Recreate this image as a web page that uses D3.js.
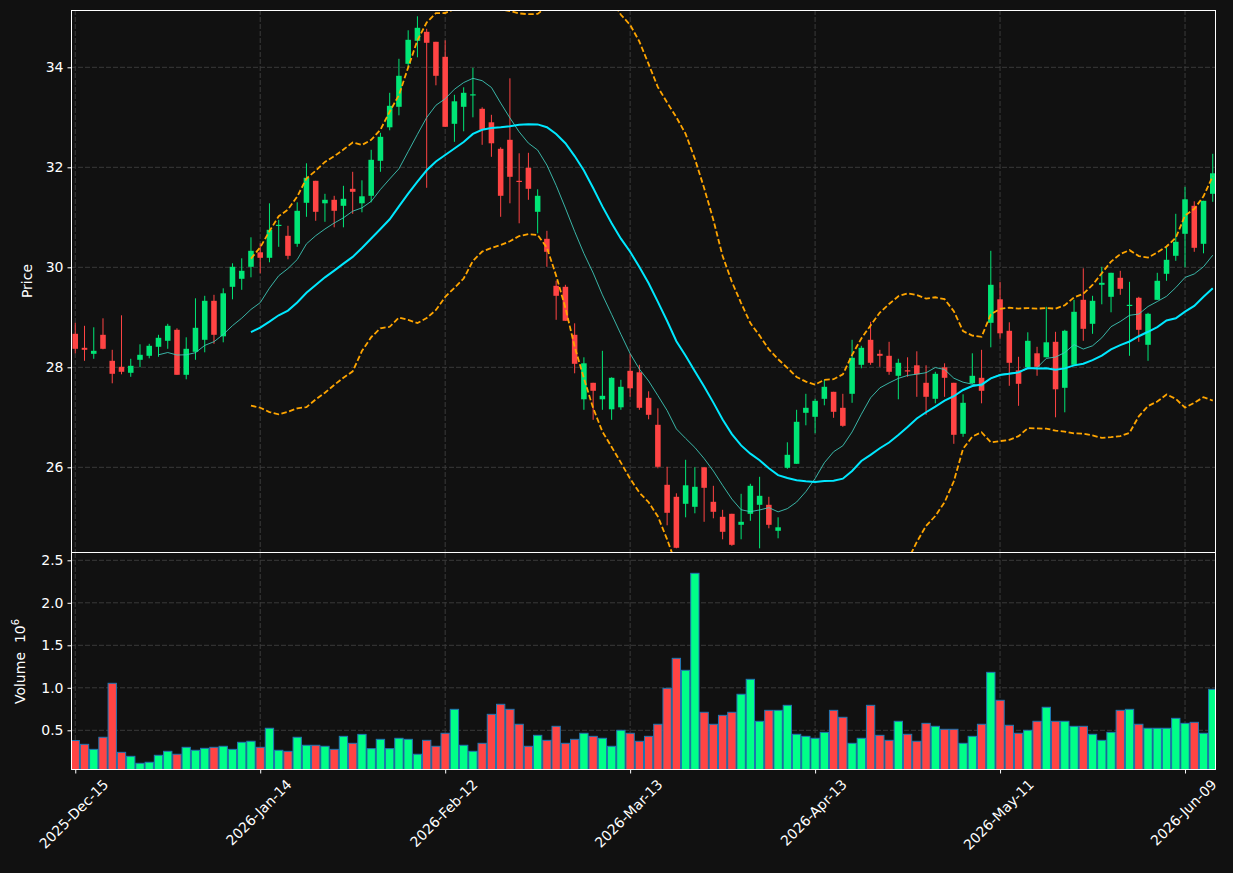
<!DOCTYPE html>
<html>
<head>
<meta charset="utf-8">
<script src="https://cdn.jsdelivr.net/npm/d3@7"></script>
<style>
  body { margin: 0; background: #111111; }
  text { font-family: "DejaVu Sans", sans-serif; }
</style>
</head>
<body>
<script>

// ---- data ----
var opens = [28.67,28.39,28.27,28.65,28.13,28.01,27.89,28.15,28.23,28.41,
  28.53,28.75,27.85,28.31,28.55,29.33,28.62,29.61,29.77,30.01,
  30.30,30.19,30.83,30.63,30.47,31.29,31.73,31.28,31.35,31.23,
  31.57,31.28,31.43,32.13,32.80,33.21,34.07,34.53,34.71,34.51,
  34.21,32.87,33.21,33.44,33.17,32.90,32.37,32.55,31.73,31.99,
  31.11,30.57,29.63,29.61,28.65,27.36,27.69,27.36,27.16,27.20,
  27.93,27.90,27.39,26.85,25.65,25.41,25.27,25.21,26.00,25.31,
  25.01,25.07,24.85,25.07,25.25,25.25,24.73,25.99,26.07,27.09,
  27.01,27.37,27.51,27.19,27.47,28.05,28.55,28.27,28.23,27.83,
  27.94,28.04,27.69,27.37,28.00,27.69,26.67,27.68,27.79,28.89,
  29.36,28.73,27.94,28.00,28.28,28.20,28.51,27.59,28.05,29.35,
  28.87,29.65,29.41,29.79,29.23,29.39,28.45,29.35,29.87,30.23,
  30.67,31.23,30.47,31.47];
var highs = [28.89,28.83,28.80,28.98,28.35,29.04,28.17,28.46,28.47,28.65,
  28.87,28.78,28.60,29.38,29.43,29.45,29.58,30.08,30.18,30.60,
  30.48,31.28,30.95,30.83,31.30,32.08,31.73,31.47,31.43,31.63,
  31.91,31.74,32.35,32.69,33.49,34.17,34.74,35.02,34.77,34.51,
  34.54,33.45,33.60,33.99,33.20,33.05,32.40,33.78,32.28,32.29,
  31.56,30.73,29.73,29.65,28.88,28.20,27.69,28.33,27.80,27.75,
  28.27,28.05,27.52,27.18,26.01,25.48,26.15,26.00,26.00,25.63,
  25.15,25.07,25.47,25.67,25.81,25.41,25.00,26.50,27.15,27.47,
  27.37,27.75,27.51,27.47,28.55,28.43,28.91,28.35,28.51,28.17,
  28.20,28.32,28.04,27.91,28.08,27.69,27.46,28.28,28.35,30.33,
  29.71,28.90,28.21,28.70,28.41,29.21,28.71,28.75,29.35,29.98,
  29.43,30.01,29.89,29.93,29.71,29.41,29.09,29.89,30.41,31.07,
  31.61,31.32,31.33,32.27];
var lows = [28.28,28.13,28.17,28.36,27.68,27.86,27.81,28.00,28.18,28.21,
  28.37,27.85,27.76,28.15,28.30,28.47,28.50,29.36,29.55,29.80,
  29.88,30.10,30.41,30.16,30.41,31.01,30.93,30.91,30.80,30.80,
  31.07,31.10,31.30,31.91,32.74,33.04,33.99,34.20,31.59,33.64,
  32.81,32.51,32.72,33.00,32.45,32.21,31.01,31.28,30.88,31.35,
  30.68,30.01,28.95,28.93,27.88,27.15,26.95,27.15,26.95,27.15,
  27.41,27.15,26.96,25.98,24.84,24.38,25.00,25.08,24.91,24.98,
  24.56,24.43,24.56,24.93,24.38,24.78,24.58,25.97,26.07,26.84,
  26.68,27.24,26.99,26.81,27.29,27.98,28.05,28.01,27.85,27.36,
  27.81,27.41,27.05,27.28,27.41,26.47,26.61,27.67,27.28,28.40,
  28.57,27.63,27.23,28.00,27.83,28.20,27.00,27.10,28.05,28.53,
  28.67,29.26,29.10,29.45,28.23,28.51,28.13,29.35,29.73,30.13,
  30.00,30.31,30.28,31.31];
var closes = [28.37,28.35,28.33,28.37,27.87,27.91,28.03,28.25,28.43,28.59,
  28.83,27.85,28.37,28.79,29.33,28.65,29.48,30.01,29.93,30.33,
  30.19,30.75,30.85,30.23,31.13,31.79,31.11,31.35,31.13,31.37,
  31.51,31.42,32.15,32.61,33.23,33.83,34.55,34.79,34.49,33.83,
  32.81,33.32,33.49,33.46,32.75,32.48,31.43,31.81,31.71,31.57,
  31.43,30.31,29.43,28.93,28.07,28.08,27.53,27.43,27.79,27.61,
  27.58,27.19,27.05,26.01,25.09,24.39,25.64,25.61,25.59,25.11,
  24.71,24.45,24.91,25.63,25.43,24.85,24.80,26.25,26.91,27.19,
  27.33,27.61,27.11,26.83,28.19,28.39,28.09,28.23,27.91,28.09,
  27.92,27.86,27.41,27.87,27.79,26.65,27.29,27.83,27.53,29.65,
  28.68,28.09,27.67,28.53,28.01,28.50,27.56,28.73,29.11,28.77,
  29.33,29.69,29.89,29.57,29.25,28.75,29.07,29.73,30.15,30.51,
  31.36,30.39,31.33,31.88];
// volume in millions
var volumes = [0.38,0.335,0.276,0.418,1.053,0.241,0.194,0.112,0.124,0.206,
  0.253,0.218,0.30,0.265,0.288,0.30,0.312,0.276,0.359,0.371,
  0.30,0.524,0.265,0.253,0.418,0.324,0.324,0.312,0.276,0.429,
  0.347,0.452,0.284,0.394,0.284,0.406,0.394,0.218,0.382,0.312,
  0.465,0.747,0.324,0.253,0.347,0.688,0.806,0.747,0.571,0.312,
  0.441,0.382,0.547,0.347,0.394,0.465,0.429,0.406,0.312,0.50,
  0.465,0.371,0.429,0.571,0.994,1.347,1.206,2.347,0.712,0.571,
  0.676,0.712,0.924,1.10,0.606,0.735,0.735,0.794,0.453,0.429,
  0.406,0.476,0.735,0.653,0.347,0.406,0.794,0.441,0.382,0.606,
  0.453,0.371,0.582,0.547,0.512,0.512,0.347,0.429,0.571,1.182,
  0.853,0.559,0.465,0.50,0.606,0.771,0.606,0.606,0.547,0.547,
  0.453,0.382,0.476,0.735,0.747,0.571,0.524,0.524,0.524,0.641,
  0.582,0.594,0.465,0.982];

var tickLabels = ["2025-Dec-15","2026-Jan-14","2026-Feb-12","2026-Mar-13",
  "2026-Apr-13","2026-May-11","2026-Jun-09"];
var tickEvery = 20;
var priceTicks = [26, 28, 30, 32, 34];
var volTicks = [0.5, 1.0, 1.5, 2.0, 2.5];

// ---- look ----
var bg = "#111111",
    up_col = "#00e676",
    down_col = "#ff4444",
    vup_col = "#00ff88",
    vedge = "#1f77b4",
    grid_col = "#3a3a3a",
    fg = "#ffffff";

var W = 1233, H = 873;
var left = 71, right = 1216,
    pTop = 10, pBot = 552,
    vTop = 553, vBot = 770;

var svg = d3.select("body").append("svg")
    .attr("width", W).attr("height", H)
    .style("background", bg);

var n = closes.length;
var x = d3.scaleLinear().domain([-0.46, 123.35]).range([left, right]);
var step = x(1) - x(0);
var yP = d3.scaleLinear().domain([24.306, 35.146]).range([pBot, pTop]);
var yV = d3.scaleLinear().domain([0.033, 2.586]).range([vBot, vTop]);

// indicators from the closes
function sma(arr, p) {
    return arr.map(function(d, i) {
        if (i < p - 1) return null;
        return d3.mean(arr.slice(i - p + 1, i + 1));
    });
}
function sdev(arr, p) {
    return arr.map(function(d, i) {
        if (i < p - 1) return null;
        return d3.deviation(arr.slice(i - p + 1, i + 1));
    });
}
var ma10 = sma(closes, 10),
    ma20 = sma(closes, 20),
    sd20 = sdev(closes, 20);
var bbUp = ma20.map(function(m, i) { return m == null ? null : m + 2 * sd20[i]; });
var bbLo = ma20.map(function(m, i) { return m == null ? null : m - 2 * sd20[i]; });

var defs = svg.append("defs");
defs.append("clipPath").attr("id", "clipP")
    .append("rect").attr("x", left).attr("y", pTop)
    .attr("width", right - left).attr("height", pBot - pTop);
defs.append("clipPath").attr("id", "clipV")
    .append("rect").attr("x", left).attr("y", vTop)
    .attr("width", right - left).attr("height", vBot - vTop);

var tickIdx = tickLabels.map(function(d, i) { return i * tickEvery; });

// ---- grid ----
var grid = svg.append("g").attr("stroke", grid_col).attr("stroke-width", 1)
    .attr("stroke-dasharray", "5,2");
tickIdx.forEach(function(t) {
    grid.append("line").attr("x1", x(t)).attr("x2", x(t)).attr("y1", pTop).attr("y2", pBot);
    grid.append("line").attr("x1", x(t)).attr("x2", x(t)).attr("y1", vTop).attr("y2", vBot);
});
priceTicks.forEach(function(t) {
    grid.append("line").attr("x1", left).attr("x2", right).attr("y1", yP(t)).attr("y2", yP(t));
});
volTicks.forEach(function(t) {
    grid.append("line").attr("x1", left).attr("x2", right).attr("y1", yV(t)).attr("y2", yV(t));
});

// ---- candles ----
var idx = d3.range(n);
var pg = svg.append("g").attr("clip-path", "url(#clipP)");
var colOf = function(i) { return closes[i] >= opens[i] ? up_col : down_col; };

pg.selectAll("line.wick").data(idx).join("line")
    .attr("class", "wick")
    .attr("x1", function(i) { return x(i); })
    .attr("x2", function(i) { return x(i); })
    .attr("y1", function(i) { return yP(highs[i]); })
    .attr("y2", function(i) { return yP(lows[i]); })
    .attr("stroke", colOf).attr("stroke-width", 1);

var bw = step * 0.6;
pg.selectAll("rect.body").data(idx).join("rect")
    .attr("class", "body")
    .attr("x", function(i) { return x(i) - bw / 2; })
    .attr("width", bw)
    .attr("y", function(i) { return yP(Math.max(opens[i], closes[i])); })
    .attr("height", function(i) {
        return Math.max(1.2, Math.abs(yP(opens[i]) - yP(closes[i])));
    })
    .attr("fill", colOf);

// ---- moving averages and bands ----
function lineOf(arr) {
    return d3.line()
        .defined(function(i) { return arr[i] != null; })
        .x(function(i) { return x(i); })
        .y(function(i) { return yP(arr[i]); })(idx);
}
pg.append("path").attr("d", lineOf(ma10))
    .attr("fill", "none").attr("stroke", "#3fd0c0").attr("stroke-width", 1)
    .attr("opacity", 0.85);
pg.append("path").attr("d", lineOf(ma20))
    .attr("fill", "none").attr("stroke", "#00e8ff").attr("stroke-width", 2);
[bbUp, bbLo].forEach(function(b) {
    pg.append("path").attr("d", lineOf(b))
        .attr("fill", "none").attr("stroke", "#ffa500").attr("stroke-width", 1.8)
        .attr("stroke-dasharray", "5.5,2.5");
});

// ---- volume ----
var vg = svg.append("g").attr("clip-path", "url(#clipV)");
var vbw = step * 0.9;
vg.selectAll("rect.vol").data(idx).join("rect")
    .attr("class", "vol")
    .attr("x", function(i) { return x(i) - vbw / 2; })
    .attr("width", vbw)
    .attr("y", function(i) { return yV(volumes[i]); })
    .attr("height", function(i) { return vBot - yV(volumes[i]) + 2; })
    .attr("fill", function(i) { return closes[i] >= opens[i] ? vup_col : down_col; })
    .attr("stroke", vedge).attr("stroke-width", 1);

// ---- axes ----
function styleAxis(g) {
    g.select(".domain").remove();
    g.selectAll(".tick line").attr("stroke", fg);
    g.selectAll(".tick text").attr("fill", fg)
        .attr("font-family", '"DejaVu Sans", sans-serif').attr("font-size", "14px");
}
svg.append("g").attr("transform", "translate(" + left + ",0)")
    .call(d3.axisLeft(yP).tickValues(priceTicks).tickSize(3.5).tickPadding(4)
        .tickFormat(d3.format("d")))
    .call(styleAxis);
svg.append("g").attr("transform", "translate(" + left + ",0)")
    .call(d3.axisLeft(yV).tickValues(volTicks).tickSize(3.5).tickPadding(4)
        .tickFormat(d3.format(".1f")))
    .call(styleAxis);

var xg = svg.append("g").attr("transform", "translate(0," + vBot + ")")
    .call(d3.axisBottom(x).tickValues(tickIdx).tickSize(3.5)
        .tickFormat(function(d) { return tickLabels[d / tickEvery]; }))
    .call(styleAxis);
// matplotlib style 45 degree labels, centred under the tick
xg.selectAll(".tick text").each(function() {
    var t = d3.select(this);
    var L = this.getComputedTextLength(), h = 14;
    var box = (L + h) / Math.SQRT2;
    t.attr("y", null).attr("dy", null)
        .attr("text-anchor", "middle")
        .attr("dominant-baseline", "central")
        .attr("transform", "translate(-2," + (7 + box / 2) + ") rotate(-45)");
});

// ---- spines ----
svg.append("rect").attr("x", left + 0.5).attr("y", pTop + 0.5)
    .attr("width", right - left - 1).attr("height", pBot - pTop)
    .attr("fill", "none").attr("stroke", fg).attr("stroke-width", 1);
svg.append("rect").attr("x", left + 0.5).attr("y", vTop - 0.5)
    .attr("width", right - left - 1).attr("height", vBot - vTop)
    .attr("fill", "none").attr("stroke", fg).attr("stroke-width", 1);

// ---- labels ----
svg.append("text").text("Price")
    .attr("transform", "translate(32," + ((pTop + pBot) / 2) + ") rotate(-90)")
    .attr("text-anchor", "middle").attr("fill", fg).attr("font-size", "14px");

var vl = svg.append("text")
    .attr("transform", "translate(25," + ((vTop + vBot) / 2) + ") rotate(-90)")
    .attr("text-anchor", "middle").attr("fill", fg).attr("font-size", "14px")
    .style("white-space", "pre");
vl.append("tspan").text("Volume  10");
vl.append("tspan").text("6").attr("font-size", "10px").attr("dy", "-6");

</script>
</body>
</html>
